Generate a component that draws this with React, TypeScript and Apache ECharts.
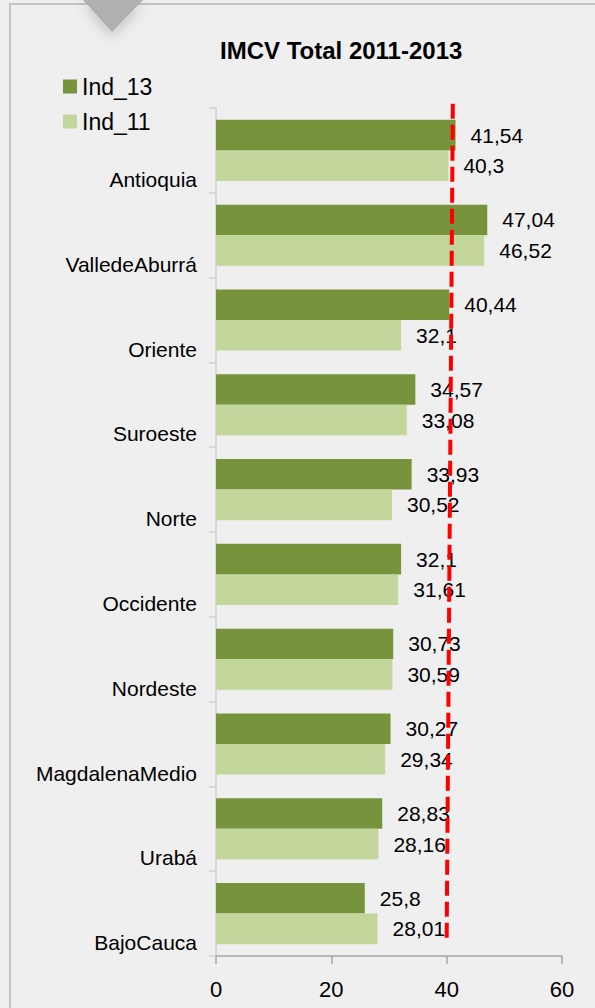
import React, { useEffect, useRef } from "react";
import * as echarts from "echarts";

const categories = [
  "Antioquia",
  "ValledeAburrá",
  "Oriente",
  "Suroeste",
  "Norte",
  "Occidente",
  "Nordeste",
  "MagdalenaMedio",
  "Urabá",
  "BajoCauca",
];
const ind13 = [41.54, 47.04, 40.44, 34.57, 33.93, 32.1, 30.73, 30.27, 28.83, 25.8];
const ind11 = [40.3, 46.52, 32.1, 33.08, 30.52, 31.61, 30.59, 29.34, 28.16, 28.01];
const xTicks = [0, 20, 40, 60];
// reference line (x value, relative height 0..1 in plot)
const refLine: [number, number][] = [
  [41.07, 1.005],
  [40.0, 0.02],
];

const FONT = "'Liberation Sans', Arial, sans-serif";

export default function App() {
  const ref = useRef<HTMLDivElement>(null);
  useEffect(() => {
    if (!ref.current) return;
    const chart = echarts.init(ref.current, undefined, { renderer: "svg" });
    const labelFmt = (p: any) => String(p.value).replace(".", ",");
    chart.setOption({
      animation: false,
      backgroundColor: "#efefef",
      textStyle: { fontFamily: FONT },
      title: {
        text: "IMCV Total 2011-2013",
        left: 215,
        top: 33,
        textStyle: { fontSize: 24, fontWeight: "bold", color: "#000", fontFamily: FONT },
      },
      legend: {
        orient: "vertical",
        left: 58,
        top: 70,
        itemWidth: 14,
        itemHeight: 14,
        itemGap: 12,
        icon: "rect",
        data: ["Ind_13", "Ind_11"],
        textStyle: { fontSize: 23, color: "#000", fontFamily: FONT },
      },
      grid: { left: 216, right: 33, top: 108, bottom: 52, containLabel: false },
      xAxis: {
        type: "value",
        min: xTicks[0],
        max: xTicks[xTicks.length - 1],
        interval: 20,
        axisLine: { show: true, lineStyle: { color: "#a6a6a6", width: 1.5 } },
        axisTick: { show: true, length: 8, lineStyle: { color: "#a6a6a6", width: 1.5 } },
        splitLine: { show: false },
        axisLabel: { fontSize: 22, color: "#000", margin: 22, fontFamily: FONT },
      },
      yAxis: [
        {
          type: "category",
          data: categories,
          inverse: true,
          axisLine: { show: true, lineStyle: { color: "#cfcfcf", width: 1.5 } },
          axisTick: { show: true, length: 7, lineStyle: { color: "#cfcfcf", width: 1.5 } },
          axisLabel: {
            fontSize: 21,
            color: "#000",
            margin: 19,
            verticalAlign: "top",
            lineHeight: 58,
            fontFamily: FONT,
          },
        },
        { type: "value", min: 0, max: 1, show: false },
      ],
      series: [
        {
          name: "Ind_13",
          type: "bar",
          data: ind13,
          barGap: "0%",
          barCategoryGap: "28%",
          itemStyle: { color: "#77933C" },
          label: {
            show: true,
            position: "right",
            distance: 15,
            fontSize: 21,
            color: "#000",
            fontFamily: FONT,
            formatter: labelFmt,
          },
        },
        {
          name: "Ind_11",
          type: "bar",
          data: ind11,
          barGap: "0%",
          barCategoryGap: "28%",
          itemStyle: { color: "#C3D69B" },
          label: {
            show: true,
            position: "right",
            distance: 15,
            fontSize: 21,
            color: "#000",
            fontFamily: FONT,
            formatter: labelFmt,
          },
        },
        {
          name: "ref",
          type: "line",
          yAxisIndex: 1,
          data: refLine,
          symbol: "none",
          clip: false,
          z: 10,
          silent: true,
          lineStyle: { color: "#ff0000", width: 4, type: [15, 6] },
        },
      ],
      graphic: [
        {
          type: "rect",
          shape: { x: 10, y: 4, width: 700, height: 1100 },
          style: { fill: "none", stroke: "#c4c4c4", lineWidth: 2 },
          z: 0,
          silent: true,
        },
        {
          type: "polygon",
          shape: {
            points: [
              [83, 0],
              [143, 0],
              [112, 32],
            ],
          },
          style: {
            fill: "#b0b0b0",
            shadowBlur: 14,
            shadowColor: "rgba(0,0,0,0.2)",
            shadowOffsetY: 4,
          },
          z: 5,
          silent: true,
        },
      ],
    });
    return () => chart.dispose();
  }, []);
  return (
    <div
      ref={ref}
      style={{ position: "fixed", left: 0, top: 0, width: 595, height: 1008 }}
    />
  );
}
